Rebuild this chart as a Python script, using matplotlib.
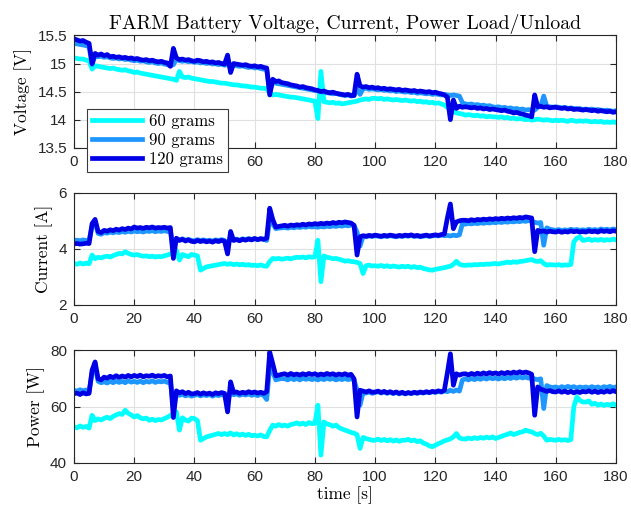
import numpy as np
import matplotlib.pyplot as plt

# sample times [s], one reading per second
time_s = np.arange(0, 181)

labels = ['60 grams', '90 grams', '120 grams']
colors = ['#00FFFF', '#1E96FF', '#0000E6']

# battery voltage [V]
volt_60 = [
    15.10, 15.09, 15.08, 15.08, 15.06, 15.05, 14.90, 14.96, 14.95, 14.94,
    14.93, 14.92, 14.91, 14.92, 14.90, 14.89, 14.88, 14.89, 14.87, 14.86,
    14.84, 14.85, 14.83, 14.82, 14.81, 14.80, 14.79, 14.78, 14.77, 14.76,
    14.75, 14.74, 14.73, 14.72, 14.70, 14.86, 14.76, 14.75, 14.76, 14.74,
    14.73, 14.72, 14.71, 14.70, 14.69, 14.68, 14.68, 14.67, 14.66, 14.65,
    14.65, 14.64, 14.63, 14.62, 14.62, 14.61, 14.60, 14.60, 14.59, 14.58,
    14.58, 14.57, 14.56, 14.56, 14.55, 14.47, 14.44, 14.45, 14.44, 14.43,
    14.42, 14.41, 14.40, 14.40, 14.39, 14.38, 14.37, 14.36, 14.35, 14.34,
    14.33, 14.02, 14.86, 14.32, 14.31, 14.30, 14.31, 14.29, 14.30, 14.28,
    14.29, 14.30, 14.31, 14.32, 14.33, 14.35, 14.36, 14.37, 14.36, 14.38,
    14.38, 14.37, 14.38, 14.36, 14.37, 14.36, 14.35, 14.36, 14.35, 14.34,
    14.35, 14.34, 14.33, 14.34, 14.32, 14.33, 14.31, 14.32, 14.30, 14.31,
    14.29, 14.30, 14.28, 14.26, 14.22, 14.17, 14.14, 14.12, 14.11, 14.10,
    14.08, 14.09, 14.08, 14.07, 14.08, 14.06, 14.07, 14.05, 14.06, 14.05,
    14.05, 14.04, 14.05, 14.03, 14.04, 14.02, 14.03, 14.01, 14.02, 14.01,
    14.00, 14.01, 13.99, 14.00, 14.01, 14.00, 13.99, 14.00, 13.99, 13.98,
    13.99, 13.98, 13.99, 13.98, 13.97, 13.99, 13.98, 13.97, 13.98, 13.97,
    13.98, 13.97, 13.96, 13.97, 13.96, 13.97, 13.95, 13.96, 13.95, 13.96,
    13.95]
volt_90 = [
    15.36, 15.35, 15.34, 15.33, 15.32, 15.30, 14.98, 15.14, 15.12, 15.13,
    15.11, 15.12, 15.10, 15.09, 15.10, 15.08, 15.09, 15.07, 15.08, 15.06,
    15.05, 15.06, 15.04, 15.05, 15.03, 15.02, 15.03, 15.01, 15.00, 15.01,
    14.99, 14.98, 14.96, 14.98, 15.08, 15.05, 15.04, 15.05, 15.03, 15.04,
    15.02, 15.03, 15.01, 15.02, 15.00, 15.01, 14.99, 15.00, 14.98, 14.99,
    14.97, 14.99, 14.92, 14.97, 14.96, 14.95, 14.96, 14.94, 14.93, 14.94,
    14.92, 14.93, 14.91, 14.90, 14.89, 14.50, 14.66, 14.65, 14.64, 14.63,
    14.62, 14.61, 14.60, 14.59, 14.58, 14.57, 14.56, 14.55, 14.54, 14.53,
    14.52, 14.51, 14.50, 14.49, 14.48, 14.47, 14.46, 14.47, 14.45, 14.44,
    14.43, 14.44, 14.42, 14.43, 14.55, 14.45, 14.55, 14.56, 14.54, 14.55,
    14.54, 14.53, 14.54, 14.52, 14.53, 14.51, 14.52, 14.50, 14.51, 14.50,
    14.49, 14.50, 14.48, 14.49, 14.47, 14.48, 14.47, 14.46, 14.47, 14.45,
    14.46, 14.45, 14.44, 14.45, 14.44, 14.43, 14.44, 14.43, 14.42, 14.30,
    14.28, 14.27, 14.28, 14.26, 14.27, 14.25, 14.26, 14.24, 14.25, 14.23,
    14.22, 14.23, 14.21, 14.22, 14.20, 14.21, 14.19, 14.20, 14.18, 14.19,
    14.17, 14.18, 14.16, 14.17, 14.22, 14.24, 14.42, 14.24, 14.23, 14.22,
    14.23, 14.22, 14.21, 14.22, 14.20, 14.21, 14.20, 14.19, 14.20, 14.18,
    14.19, 14.18, 14.19, 14.17, 14.18, 14.17, 14.16, 14.17, 14.16, 14.15,
    14.16]
volt_120 = [
    15.44, 15.42, 15.40, 15.41, 15.38, 15.36, 15.00, 15.18, 15.15, 15.17,
    15.14, 15.16, 15.12, 15.13, 15.11, 15.12, 15.10, 15.11, 15.09, 15.10,
    15.08, 15.09, 15.07, 15.06, 15.07, 15.05, 15.06, 15.04, 15.03, 15.04,
    15.02, 15.01, 14.95, 15.27, 15.10, 15.07, 15.08, 15.06, 15.07, 15.05,
    15.04, 15.06, 15.05, 15.03, 15.04, 15.02, 15.03, 15.01, 15.02, 15.00,
    14.99, 15.15, 14.84, 15.00, 14.99, 14.98, 14.97, 14.98, 14.96, 14.95,
    14.96, 14.94, 14.95, 14.93, 14.92, 14.44, 14.72, 14.68, 14.69, 14.66,
    14.65, 14.64, 14.62, 14.61, 14.60, 14.58, 14.59, 14.57, 14.56, 14.55,
    14.53, 14.52, 14.50, 14.51, 14.49, 14.48, 14.49, 14.47, 14.46, 14.45,
    14.44, 14.45, 14.43, 14.43, 14.81, 14.60, 14.58, 14.59, 14.57, 14.58,
    14.56, 14.57, 14.55, 14.56, 14.54, 14.55, 14.54, 14.53, 14.54, 14.52,
    14.53, 14.52, 14.51, 14.52, 14.50, 14.51, 14.50, 14.49, 14.50, 14.48,
    14.49, 14.47, 14.46, 14.44, 14.40, 14.00, 14.35, 14.20, 14.24, 14.22,
    14.23, 14.22, 14.21, 14.22, 14.20, 14.21, 14.19, 14.20, 14.18, 14.19,
    14.18, 14.17, 14.16, 14.17, 14.15, 14.14, 14.12, 14.13, 14.11, 14.10,
    14.08, 14.07, 14.05, 14.44, 14.23, 14.24, 14.22, 14.23, 14.21, 14.22,
    14.22, 14.21, 14.20, 14.21, 14.19, 14.20, 14.18, 14.19, 14.18, 14.17,
    14.18, 14.17, 14.16, 14.17, 14.15, 14.16, 14.15, 14.14, 14.15, 14.13,
    14.14]

# battery current [A]
curr_60 = [
    3.48, 3.45, 3.50, 3.46, 3.49, 3.47, 3.78, 3.65, 3.70, 3.68,
    3.72, 3.74, 3.71, 3.76, 3.80, 3.84, 3.82, 3.90, 3.84, 3.80,
    3.78, 3.80, 3.76, 3.74, 3.75, 3.72, 3.74, 3.71, 3.73, 3.72,
    3.75, 3.78, 3.82, 3.90, 3.95, 3.60, 3.80, 3.76, 3.72, 3.80,
    3.78, 3.75, 3.24, 3.30, 3.36, 3.38, 3.40, 3.42, 3.44, 3.46,
    3.48, 3.45, 3.47, 3.44, 3.46, 3.43, 3.45, 3.42, 3.44, 3.41,
    3.42, 3.40, 3.43, 3.39, 3.38, 3.55, 3.66, 3.64, 3.66, 3.63,
    3.65, 3.67, 3.64, 3.68, 3.70, 3.69, 3.71, 3.68, 3.72, 3.70,
    3.72, 4.31, 2.83, 3.75, 3.70, 3.68, 3.65, 3.66, 3.63, 3.60,
    3.56, 3.58, 3.55, 3.54, 3.52, 3.48, 3.12, 3.40, 3.42, 3.39,
    3.40, 3.38, 3.41, 3.37, 3.40, 3.36, 3.39, 3.37, 3.35, 3.38,
    3.36, 3.38, 3.34, 3.37, 3.33, 3.35, 3.30, 3.28, 3.25, 3.24,
    3.27, 3.29, 3.31, 3.33, 3.36, 3.38, 3.45, 3.56, 3.45, 3.42,
    3.41, 3.43, 3.42, 3.44, 3.43, 3.45, 3.44, 3.46, 3.45, 3.47,
    3.48, 3.46, 3.49, 3.50, 3.53, 3.51, 3.54, 3.52, 3.55, 3.56,
    3.58, 3.60, 3.62, 3.57, 3.55, 3.58, 3.48, 3.42, 3.44, 3.43,
    3.42, 3.44, 3.41, 3.43, 3.42, 3.44, 4.25, 4.38, 4.43, 4.30,
    4.32, 4.35, 4.30, 4.33, 4.31, 4.34, 4.30, 4.33, 4.31, 4.35,
    4.32]
curr_90 = [
    4.30, 4.31, 4.29, 4.32, 4.30, 4.31, 4.80, 4.95, 4.55, 4.52,
    4.58, 4.56, 4.60, 4.57, 4.61, 4.58, 4.62, 4.59, 4.63, 4.60,
    4.64, 4.61, 4.63, 4.60, 4.64, 4.62, 4.65, 4.61, 4.64, 4.62,
    4.65, 4.62, 4.64, 4.00, 4.35, 4.32, 4.36, 4.31, 4.34, 4.30,
    4.29, 4.33, 4.30, 4.32, 4.29, 4.31, 4.28, 4.32, 4.30, 4.33,
    4.30, 4.10, 4.45, 4.32, 4.35, 4.31, 4.36, 4.33, 4.37, 4.34,
    4.36, 4.33, 4.37, 4.34, 4.30, 5.00, 4.90, 4.72, 4.74, 4.75,
    4.76, 4.74, 4.77, 4.75, 4.78, 4.76, 4.79, 4.77, 4.80, 4.78,
    4.79, 4.77, 4.80, 4.78, 4.81, 4.79, 4.82, 4.80, 4.83, 4.81,
    4.84, 4.82, 4.85, 4.83, 4.60, 4.10, 4.45, 4.43, 4.46, 4.44,
    4.47, 4.45, 4.43, 4.46, 4.44, 4.47, 4.45, 4.43, 4.46, 4.44,
    4.47, 4.45, 4.48, 4.44, 4.46, 4.43, 4.45, 4.47, 4.44, 4.46,
    4.48, 4.46, 4.49, 4.47, 4.48, 4.46, 4.49, 4.47, 4.50, 4.90,
    4.88, 4.91, 4.89, 4.92, 4.90, 4.93, 4.91, 4.94, 4.92, 4.95,
    4.93, 4.96, 4.94, 4.97, 4.95, 4.98, 4.96, 4.99, 4.97, 5.00,
    4.98, 5.01, 4.99, 4.95, 4.92, 4.94, 4.13, 4.75, 4.70, 4.68,
    4.66, 4.69, 4.65, 4.68, 4.66, 4.70, 4.67, 4.69, 4.66, 4.68,
    4.66, 4.70, 4.67, 4.69, 4.66, 4.71, 4.68, 4.70, 4.67, 4.71,
    4.69]
curr_120 = [
    4.18, 4.19, 4.17, 4.18, 4.20, 4.19, 4.90, 5.05, 4.62, 4.58,
    4.66, 4.63, 4.68, 4.65, 4.70, 4.67, 4.72, 4.69, 4.74, 4.71,
    4.78, 4.74, 4.76, 4.73, 4.77, 4.75, 4.78, 4.74, 4.76, 4.75,
    4.77, 4.74, 4.76, 3.66, 4.38, 4.30, 4.34, 4.28, 4.32, 4.27,
    4.25, 4.30, 4.26, 4.29, 4.25, 4.28, 4.24, 4.29, 4.26, 4.30,
    4.27, 3.82, 4.62, 4.30, 4.33, 4.29, 4.34, 4.31, 4.35, 4.32,
    4.37, 4.33, 4.36, 4.34, 4.38, 5.45, 5.05, 4.78, 4.80, 4.82,
    4.84, 4.81, 4.85, 4.83, 4.86, 4.84, 4.88, 4.85, 4.89, 4.87,
    4.90, 4.88, 4.91, 4.89, 4.92, 4.90, 4.94, 4.91, 4.95, 4.93,
    4.96, 4.94, 4.92, 4.84, 3.78, 4.43, 4.47, 4.45, 4.48, 4.46,
    4.49, 4.47, 4.45, 4.48, 4.46, 4.49, 4.47, 4.45, 4.48, 4.46,
    4.49, 4.47, 4.50, 4.46, 4.48, 4.45, 4.47, 4.49, 4.46, 4.48,
    4.50, 4.48, 4.51, 4.53, 5.10, 5.60, 4.72, 4.96, 5.00, 5.02,
    5.02, 5.00, 5.04, 5.01, 5.05, 5.03, 5.06, 5.04, 5.07, 5.05,
    5.08, 5.06, 5.09, 5.07, 5.10, 5.08, 5.11, 5.09, 5.12, 5.10,
    5.14, 5.12, 5.10, 3.90, 4.66, 4.62, 4.64, 4.60, 4.63, 4.61,
    4.60, 4.63, 4.59, 4.62, 4.60, 4.64, 4.61, 4.63, 4.60, 4.62,
    4.60, 4.64, 4.61, 4.63, 4.60, 4.65, 4.62, 4.64, 4.61, 4.65,
    4.63]

# battery power [W]
power_60 = [
    52.8, 52.4, 53.1, 52.6, 52.9, 52.3, 56.9, 55.0, 55.6, 55.2,
    55.8, 56.2, 55.7, 56.5, 57.0, 57.5, 57.2, 58.7, 57.6, 57.0,
    56.3, 56.8, 56.0, 55.6, 55.9, 55.1, 55.5, 55.0, 55.4, 55.2,
    55.7, 56.2, 56.8, 57.5, 58.1, 51.6, 56.0, 55.2, 54.8, 55.9,
    55.7, 55.0, 48.0, 48.6, 49.2, 49.5, 49.8, 50.1, 50.4, 50.0,
    50.4, 50.0, 50.6, 49.9, 50.3, 49.8, 50.2, 49.7, 50.1, 49.6,
    49.8, 49.5, 49.9, 49.3, 49.2, 51.5, 53.4, 53.0, 53.6, 53.1,
    53.4, 53.0, 53.6, 53.8, 54.2, 53.7, 54.1, 53.6, 54.3, 53.9,
    54.0, 60.5, 42.7, 54.5, 53.8, 53.5, 53.0, 53.4, 52.5, 52.0,
    51.6, 51.2, 50.8, 50.5, 50.0, 45.1, 49.0, 48.6, 48.3, 48.0,
    48.0, 48.4, 47.9, 48.3, 47.8, 48.2, 47.7, 48.1, 47.6, 48.0,
    48.0, 48.3, 47.8, 48.1, 47.5, 47.8, 47.0, 46.6, 46.0, 45.7,
    46.2, 46.8, 47.2, 47.8, 48.1, 48.5, 49.2, 50.4, 48.8, 48.5,
    48.4, 48.8, 48.5, 48.9, 48.6, 49.0, 48.7, 49.1, 48.8, 49.2,
    48.6, 49.0, 49.4, 49.8, 50.1, 50.6, 50.0, 50.4, 50.8, 51.0,
    51.6, 51.2, 51.0, 50.4, 50.0, 50.5, 49.5, 48.0, 48.3, 48.1,
    48.0, 48.3, 48.0, 48.2, 47.9, 48.2, 60.0, 63.4, 62.2, 61.6,
    61.6, 62.0, 60.8, 61.2, 60.5, 60.9, 60.4, 60.8, 60.5, 61.0,
    60.5]
power_90 = [
    65.8, 65.5, 66.0, 65.6, 65.9, 65.4, 72.0, 74.0, 69.0, 68.5,
    68.8, 68.4, 69.0, 68.5, 69.1, 68.6, 69.0, 68.5, 69.2, 68.7,
    69.0, 68.6, 69.1, 68.5, 69.0, 68.7, 69.2, 68.6, 69.0, 68.8,
    69.1, 68.6, 68.9, 60.0, 64.5, 64.0, 64.4, 63.8, 64.2, 63.7,
    64.0, 64.3, 63.8, 64.2, 63.9, 64.3, 63.7, 64.2, 63.9, 64.3,
    64.0, 61.0, 66.0, 64.2, 64.5, 64.0, 64.4, 64.1, 64.5, 64.0,
    64.3, 63.9, 64.4, 64.0, 62.5, 74.0, 72.5, 69.5, 69.8, 70.0,
    69.9, 69.5, 70.1, 69.6, 70.0, 69.5, 70.1, 69.7, 70.0, 69.6,
    69.9, 69.5, 70.0, 69.6, 70.1, 69.7, 70.0, 69.5, 69.9, 69.6,
    70.0, 69.6, 69.9, 69.5, 66.0, 60.5, 65.0, 64.8, 65.2, 64.7,
    65.0, 65.3, 64.8, 65.2, 64.7, 65.1, 64.6, 65.0, 64.5, 64.9,
    64.5, 64.9, 64.6, 65.0, 64.7, 65.1, 64.8, 65.2, 64.9, 65.3,
    65.0, 65.4, 65.1, 65.6, 65.3, 65.8, 65.4, 65.9, 65.5, 69.5,
    69.9, 69.5, 70.0, 69.6, 70.1, 69.7, 70.2, 69.8, 70.3, 69.9,
    70.2, 69.8, 70.3, 69.9, 70.4, 70.0, 70.5, 70.1, 70.6, 70.2,
    70.5, 70.1, 70.4, 69.8, 69.6, 69.9, 59.3, 67.5, 67.0, 66.8,
    67.0, 66.6, 67.1, 66.7, 67.2, 66.8, 67.1, 66.6, 67.0, 66.7,
    67.0, 66.6, 67.1, 66.7, 67.0, 66.5, 67.1, 66.8, 67.2, 66.7,
    67.0]
power_120 = [
    64.6, 64.8, 64.3, 64.9, 64.5, 64.7, 73.0, 75.9, 69.9, 69.5,
    70.5, 70.1, 70.8, 70.3, 71.0, 70.4, 70.9, 70.5, 71.1, 70.6,
    71.1, 70.7, 71.2, 70.6, 71.0, 70.8, 71.2, 70.7, 71.0, 70.8,
    71.1, 70.6, 70.9, 56.1, 65.6, 64.9, 65.3, 64.6, 65.1, 64.5,
    64.6, 65.0, 64.4, 64.9, 64.5, 64.8, 64.3, 64.9, 64.6, 65.0,
    64.7, 58.1, 68.8, 65.0, 65.2, 64.7, 65.1, 64.8, 65.3, 64.9,
    65.2, 64.8, 65.1, 64.7, 65.3, 79.4, 75.3, 71.0, 71.2, 71.5,
    71.7, 71.2, 71.8, 71.3, 71.6, 71.2, 71.7, 71.3, 71.8, 71.4,
    71.7, 71.2, 71.6, 71.3, 71.8, 71.4, 71.7, 71.2, 71.6, 71.3,
    71.7, 71.2, 71.5, 69.9, 56.3, 65.8, 65.5, 65.2, 65.6, 65.1,
    65.2, 65.5, 65.0, 65.4, 64.9, 65.3, 64.8, 65.2, 64.7, 65.1,
    64.6, 65.0, 64.7, 65.1, 64.8, 65.2, 64.9, 65.3, 65.0, 65.4,
    65.2, 65.6, 65.3, 65.8, 72.0, 78.8, 67.6, 71.7, 71.2, 71.6,
    71.7, 71.3, 71.8, 71.4, 71.9, 71.5, 72.0, 71.6, 72.1, 71.7,
    72.0, 71.6, 72.1, 71.7, 72.2, 71.8, 72.3, 71.9, 72.4, 72.0,
    72.3, 72.0, 71.5, 56.9, 67.0, 66.2, 65.8, 65.4, 65.7, 65.3,
    65.2, 65.6, 65.1, 65.5, 65.0, 65.4, 64.9, 65.3, 65.0, 65.4,
    65.2, 65.6, 65.1, 65.5, 65.0, 65.4, 65.1, 65.6, 65.2, 65.7,
    65.3]

panels = [
    ([volt_60, volt_90, volt_120], 'Voltage [V]', (13.5, 15.5), [13.5, 14, 14.5, 15, 15.5]),
    ([curr_60, curr_90, curr_120], 'Current [A]', (2, 6), [2, 4, 6]),
    ([power_60, power_90, power_120], 'Power [W]', (40, 80), [40, 60, 80]),
]

serif = 'cmr10'
tick_font = 'Liberation Sans'
axis_col = '#262626'

fig = plt.figure(figsize=(6.31, 5.09), dpi=100)
bottoms = [0.7098, 0.4008, 0.0910]
axes = []
for (series, ylab, ylim, yticks), b in zip(panels, bottoms):
    ax = fig.add_axes([0.1173, b, 0.8589, 0.2205])
    for y, lab, c in zip(series, labels, colors):
        ax.plot(time_s, y, color=c, lw=3.4, label=lab, solid_joinstyle='round')
    ax.set_xlim(0, 180)
    ax.set_ylim(*ylim)
    ax.set_xticks(np.arange(0, 181, 20))
    ax.set_yticks(yticks)
    ax.set_yticklabels([f'{v:g}' for v in yticks])
    ax.grid(True, color='#e0e0e0', lw=0.8)
    ax.set_axisbelow(True)
    ax.tick_params(direction='in', length=4, width=0.8, top=True, right=True,
                   colors=axis_col, labelsize=11, pad=5)
    for lbl in ax.get_xticklabels() + ax.get_yticklabels():
        lbl.set_fontfamily(tick_font)
    for sp in ax.spines.values():
        sp.set_color(axis_col)
        sp.set_linewidth(0.8)
    ax.set_ylabel(ylab, fontfamily=serif, fontsize=12.5, color='black', labelpad=4)
    axes.append(ax)

axes[0].set_title('FARM Battery Voltage, Current, Power Load/Unload',
                  fontfamily=serif, fontsize=14.2, pad=5)
axes[2].set_xlabel('time [s]', fontfamily=serif, fontsize=12.5, labelpad=2)

leg = axes[0].legend(loc='upper left', bbox_to_anchor=(0.024, 0.345),
                     prop={'family': serif, 'size': 12}, frameon=True,
                     fancybox=False, framealpha=1, edgecolor='#3a3a3a',
                     handlelength=3.0, handletextpad=0.4, labelspacing=0.2,
                     borderpad=0.3, borderaxespad=0)
leg.get_frame().set_linewidth(0.8)
leg.set_zorder(5)

fig.savefig('out.png', dpi=100)
